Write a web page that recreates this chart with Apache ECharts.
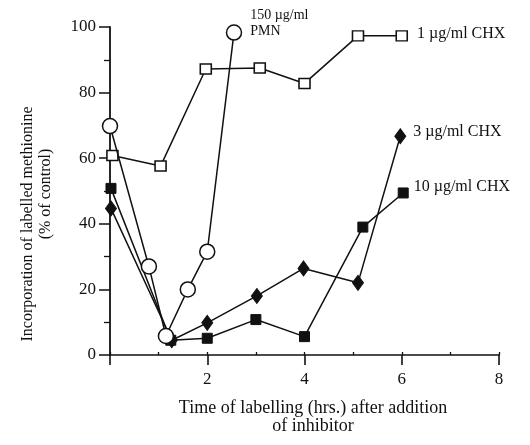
<!DOCTYPE html>
<html>
<head>
<meta charset="utf-8">
<script src="https://cdn.jsdelivr.net/npm/echarts@6/dist/echarts.min.js"></script>
<style>html,body{margin:0;padding:0;background:#fff}#c{width:530px;height:445px}</style>
</head>
<body>
<div id="c"></div>
<script>
var xTicks = [0, 2, 4, 6, 8];
var yTicks = [0, 20, 40, 60, 80, 100];
var pmnX = [0, 0.8, 1.15, 1.6, 2.0, 2.55];
var pmnY = [69.8, 27, 5.8, 20, 31.5, 98.3];
var chx1X = [0.05, 1.04, 1.97, 3.08, 4.0, 5.1, 6.0];
var chx1Y = [60.8, 57.6, 87.2, 87.5, 82.8, 97.3, 97.3];
var chx3X = [0.02, 1.27, 2.0, 3.02, 3.98, 5.1, 5.97];
var chx3Y = [44.7, 4.5, 9.8, 18, 26.4, 22, 66.7];
var chx10X = [0.02, 1.25, 2.0, 3.0, 4.0, 5.2, 6.03];
var chx10Y = [50.8, 4.5, 5.1, 10.8, 5.6, 39, 49.4];
var labels = ['150 µg/ml\nPMN', '1 µg/ml CHX', '3 µg/ml CHX', '10 µg/ml CHX'];

function pts(xs, ys) { return xs.map(function (x, i) { return [x, ys[i]]; }); }
function withEndLabel(data, text, offset, size, dist) {
  var d = data.map(function (p) { return { value: p }; });
  d[d.length - 1].label = {
    show: true, formatter: text, position: 'right', distance: dist, offset: offset,
    color: '#111', fontFamily: 'Liberation Serif', fontSize: size, lineHeight: size + 2, align: 'left'
  };
  return d;
}
var font = 'Liberation Serif';
var chart = echarts.init(document.getElementById('c'), null, { renderer: 'canvas' });
var lineStyle = { color: '#111', width: 1.5 };
chart.setOption({
  animation: false,
  backgroundColor: '#fff',
  grid: { left: 110, right: 31, top: 27, bottom: 90 },
  xAxis: [{
    type: 'value', min: 0, max: 8, interval: 2,
    axisLine: { show: true, onZero: false, lineStyle: { color: '#111', width: 1.6 } },
    axisTick: { show: true, length: 10, lineStyle: { color: '#111', width: 1.6 } },
    axisLabel: { color: '#111', fontFamily: font, fontSize: 17, margin: 16,
      formatter: function (v) { return xTicks.indexOf(v) > 0 ? String(v) : ''; } },
    splitLine: { show: false }
  }, {
    type: 'value', min: 0, max: 8, interval: 1, position: 'bottom',
    axisLine: { show: false },
    axisTick: { show: true, inside: true, length: 3, lineStyle: { color: '#111', width: 1.3 } },
    axisLabel: { show: false }, splitLine: { show: false }
  }],
  yAxis: {
    type: 'value', min: 0, max: 100, interval: 20,
    axisLine: { show: true, onZero: false, lineStyle: { color: '#111', width: 1.8 } },
    axisTick: { show: true, length: 11, lineStyle: { color: '#111', width: 1.5 } },
    minorTick: { show: true, splitNumber: 2, length: 6, lineStyle: { color: '#111', width: 1.3 } },
    axisLabel: { color: '#111', fontFamily: font, fontSize: 17, margin: 14,
      formatter: function (v) { return yTicks.indexOf(v) >= 0 ? String(v) : ''; } },
    splitLine: { show: false }
  },
  graphic: [
    { type: 'text', x: 28, y: 224, rotation: Math.PI / 2,
      style: { text: 'Incorporation of labelled methionine', fill: '#111', font: '16px "Liberation Serif"', textAlign: 'center', textVerticalAlign: 'middle' } },
    { type: 'text', x: 46, y: 194, rotation: Math.PI / 2,
      style: { text: '(% of control)', fill: '#111', font: '16px "Liberation Serif"', textAlign: 'center', textVerticalAlign: 'middle' } },
    { type: 'text', x: 313, y: 408,
      style: { text: 'Time of labelling (hrs.) after addition', fill: '#111', font: '18px "Liberation Serif"', textAlign: 'center', textVerticalAlign: 'middle' } },
    { type: 'text', x: 313, y: 426,
      style: { text: 'of inhibitor', fill: '#111', font: '18px "Liberation Serif"', textAlign: 'center', textVerticalAlign: 'middle' } }
  ],
  series: [
    { type: 'line', data: withEndLabel(pts(chx10X, chx10Y), labels[3], [0, -6], 16, 5), symbol: 'rect', symbolSize: [10, 10],
      lineStyle: lineStyle, itemStyle: { color: '#111', borderColor: '#111', borderWidth: 1 }, z: 3 },
    { type: 'line', data: withEndLabel(pts(chx3X, chx3Y), labels[2], [0, -4], 16, 7), symbol: 'diamond', symbolSize: [11, 15],
      lineStyle: lineStyle, itemStyle: { color: '#111', borderColor: '#111', borderWidth: 1 }, z: 4 },
    { type: 'line', data: withEndLabel(pts(chx1X, chx1Y), labels[1], [0, -2], 16, 9), symbol: 'rect', symbolSize: [11, 10],
      lineStyle: lineStyle, itemStyle: { color: '#fff', borderColor: '#111', borderWidth: 1.5 }, z: 5 },
    { type: 'line', data: withEndLabel(pts(pmnX, pmnY), labels[0], [0, -9], 14, 8), symbol: 'circle', symbolSize: 15,
      lineStyle: lineStyle, itemStyle: { color: '#fff', borderColor: '#111', borderWidth: 1.5 }, z: 6 }
  ]
});
</script>
</body>
</html>
